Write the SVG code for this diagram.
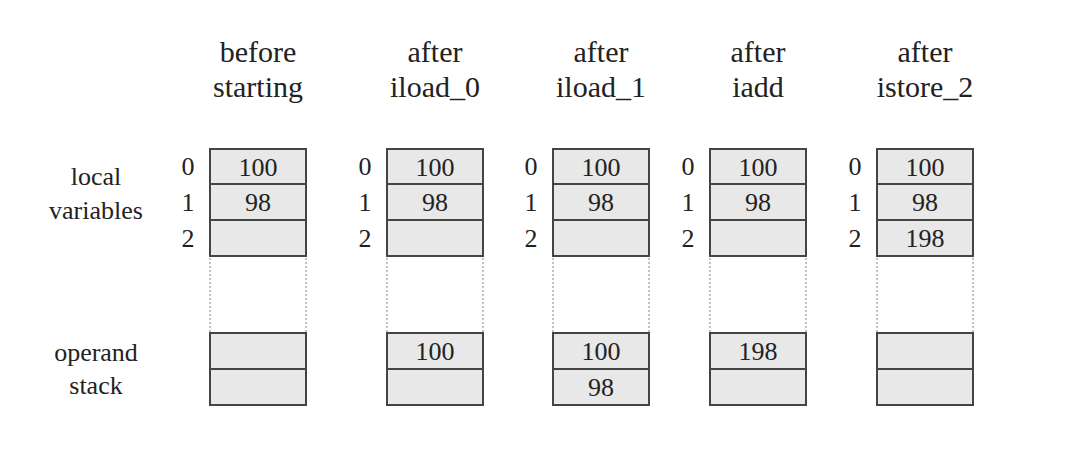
<svg xmlns="http://www.w3.org/2000/svg" width="1068" height="454" viewBox="0 0 1068 454" font-family="'Liberation Serif','DejaVu Serif',serif">
<style>
text{font-family:'Liberation Serif','DejaVu Serif',serif;fill:#222}
.h{font-size:30px;text-anchor:middle}
.l{font-size:26px;text-anchor:middle}
.c{font-size:26px;text-anchor:middle}
.i{font-size:26px;text-anchor:middle}
rect{fill:#e8e8e8;stroke:#444;stroke-width:2}
.d{stroke:#999;stroke-width:1.2;stroke-dasharray:2,2;fill:none}
</style>
<rect x="0" y="0" width="1068" height="454" style="fill:#fff;stroke:none"/>
<g id="labels">
<text class="l" x="96" y="185">local</text>
<text class="l" x="96" y="219">variables</text>
<text class="l" x="96" y="361">operand</text>
<text class="l" x="96" y="394">stack</text>
</g>
<defs>
<g id="col">
<rect x="0" y="149" width="96" height="35"/>
<rect x="0" y="184" width="96" height="36"/>
<rect x="0" y="220" width="96" height="36"/>
<path class="d" d="M0 258V333M96 258V333"/>
<rect x="0" y="333" width="96" height="36"/>
<rect x="0" y="369" width="96" height="36"/>
<text class="i" x="-22" y="175">0</text>
<text class="i" x="-22" y="211">1</text>
<text class="i" x="-22" y="247">2</text>
<text class="c" x="48" y="176">100</text>
<text class="c" x="48" y="211">98</text>
</g>
</defs>
<g id="c1"><use href="#col" x="210"/>
<text class="h" x="258" y="62">before</text><text class="h" x="258" y="97">starting</text></g>
<g id="c2"><use href="#col" x="387"/>
<text class="h" x="435" y="62">after</text><text class="h" x="435" y="97">iload_0</text>
<text class="c" x="435" y="360">100</text></g>
<g id="c3"><use href="#col" x="553"/>
<text class="h" x="601" y="62">after</text><text class="h" x="601" y="97">iload_1</text>
<text class="c" x="601" y="360">100</text><text class="c" x="601" y="396">98</text></g>
<g id="c4"><use href="#col" x="710"/>
<text class="h" x="758" y="62">after</text><text class="h" x="758" y="97">iadd</text>
<text class="c" x="758" y="360">198</text></g>
<g id="c5"><use href="#col" x="877"/>
<text class="h" x="925" y="62">after</text><text class="h" x="925" y="97">istore_2</text>
<text class="c" x="925" y="247">198</text></g>
<g id="connectors"></g>
</svg>
